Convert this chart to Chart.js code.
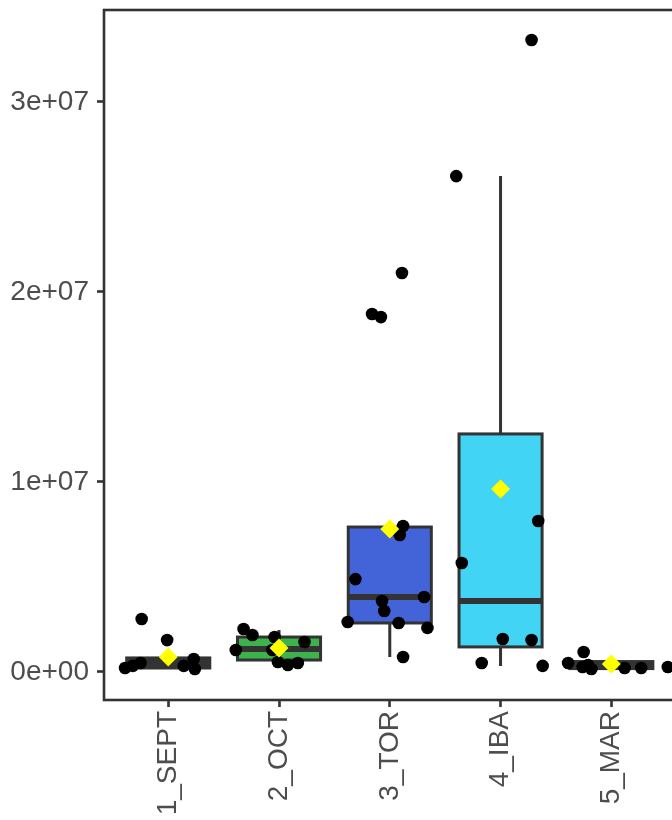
<!DOCTYPE html>
<html>
<head>
<meta charset="utf-8">
<script src="https://cdn.jsdelivr.net/npm/chart.js@4/dist/chart.umd.min.js"></script>
<style>
  html, body { margin: 0; padding: 0; background: #ffffff; overflow: hidden; width: 672px; height: 820px; }
  canvas { display: block; }
</style>
</head>
<body>
<canvas id="c" width="700" height="820"></canvas>
<script>
// ---- data ----
const categories = ['1_SEPT', '2_OCT', '3_TOR', '4_IBA', '5_MAR'];
const boxFill = ['#333333', '#3CB44B', '#4363D8', '#42D4F4', '#333333'];

// box statistics per category
const q1          = [0.21e6, 0.63e6, 2.58e6, 1.32e6, 0.18e6];
const medians     = [0.47e6, 1.21e6, 3.95e6, 3.74e6, 0.30e6];
const q3          = [0.74e6, 1.84e6, 7.63e6, 12.53e6, 0.55e6];
const whiskerLow  = [0.16e6, 0.37e6, 0.79e6, 0.32e6, 0.16e6];
const whiskerHigh = [0.74e6, 2.21e6, 7.63e6, 26.1e6, 0.55e6];
const means       = [0.79e6, 1.26e6, 7.53e6, 9.63e6, 0.42e6];

// jittered observations (x in category units, y values)
const pointX = [
  0.76, 0.99, 0.61, 0.68, 0.75, 1.14, 1.23, 1.24,
  1.68, 1.76, 1.61, 1.96, 1.94, 1.99, 2.08, 2.17, 2.23,
  3.12, 3.09, 2.69, 3.31, 2.93, 2.95, 2.62, 3.08, 3.34, 3.12, 3.11, 2.84, 2.92,
  3.65, 4.34, 4.02, 4.28, 3.83, 4.38, 4.28, 3.60,
  4.61, 4.75, 4.74, 4.82, 4.79, 5.12, 5.27, 5.51
];
const pointY = [
  2.79e6, 1.68e6, 0.21e6, 0.32e6, 0.47e6, 0.32e6, 0.68e6, 0.16e6,
  2.26e6, 1.95e6, 1.16e6, 1.84e6, 1.16e6, 0.53e6, 0.37e6, 0.47e6, 1.58e6,
  7.68e6, 7.21e6, 4.89e6, 3.95e6, 3.74e6, 3.21e6, 2.63e6, 2.58e6, 2.32e6, 0.79e6, 21.0e6, 18.84e6, 18.68e6,
  5.74e6, 7.95e6, 1.74e6, 1.68e6, 0.47e6, 0.32e6, 33.26e6, 26.1e6,
  0.47e6, 1.05e6, 0.26e6, 0.16e6, 0.37e6, 0.21e6, 0.21e6, 0.26e6
];
const yTicks = [0, 1e7, 2e7, 3e7];

// ---- helpers ----
function sciLabel(v) {
  const s = Number(v).toExponential(0);
  const parts = s.split('e');
  const sign = parts[1][0];
  const exp = parts[1].slice(1).padStart(2, '0');
  return parts[0] + 'e' + sign + exp;
}

const LINE = '#333333';
const TEXT = '#4D4D4D';
const FONT = { family: '"Liberation Sans", Arial, sans-serif', size: 28 };

const boxPlugin = {
  id: 'boxes',
  beforeDatasetsDraw(chart) {
    const ctx = chart.ctx;
    const xs = chart.scales.x, ys = chart.scales.y;
    const half = 0.375;
    ctx.save();
    ctx.beginPath();
    ctx.rect(chart.chartArea.left, chart.chartArea.top,
             chart.chartArea.right - chart.chartArea.left,
             chart.chartArea.bottom - chart.chartArea.top);
    ctx.clip();
    categories.forEach((c, i) => {
      const xc = xs.getPixelForValue(i + 1);
      const xl = xs.getPixelForValue(i + 1 - half);
      const xr = xs.getPixelForValue(i + 1 + half);
      const yq1 = ys.getPixelForValue(q1[i]);
      const yq3 = ys.getPixelForValue(q3[i]);
      const ymed = ys.getPixelForValue(medians[i]);
      const ylo = ys.getPixelForValue(whiskerLow[i]);
      const yhi = ys.getPixelForValue(whiskerHigh[i]);
      ctx.strokeStyle = LINE;
      ctx.lineWidth = 3;
      ctx.lineCap = 'butt';
      ctx.beginPath();
      ctx.moveTo(xc, yq3); ctx.lineTo(xc, yhi);
      ctx.moveTo(xc, yq1); ctx.lineTo(xc, ylo);
      ctx.stroke();
      ctx.fillStyle = boxFill[i];
      ctx.fillRect(xl, yq3, xr - xl, yq1 - yq3);
      ctx.strokeRect(xl, yq3, xr - xl, yq1 - yq3);
      ctx.lineWidth = 6;
      ctx.beginPath();
      ctx.moveTo(xl, ymed); ctx.lineTo(xr, ymed);
      ctx.stroke();
    });
    ctx.restore();
  },
  afterDraw(chart) {
    const ctx = chart.ctx;
    const a = chart.chartArea;
    ctx.save();
    ctx.strokeStyle = LINE;
    ctx.lineWidth = 2.6;
    ctx.strokeRect(a.left, a.top, a.right - a.left, a.bottom - a.top);
    ctx.restore();
  }
};

const points = pointX.map((x, k) => ({ x: x, y: pointY[k] }));
const meanPts = means.map((m, i) => ({ x: i + 1, y: m }));

new Chart(document.getElementById('c'), {
  type: 'scatter',
  data: {
    datasets: [
      {
        label: 'mean',
        data: meanPts,
        pointStyle: 'rectRot',
        pointRadius: 9.5,
        backgroundColor: '#FFFF00',
        borderWidth: 0,
        order: 0
      },
      {
        label: 'obs',
        data: points,
        pointRadius: 6.3,
        backgroundColor: '#000000',
        borderWidth: 0,
        order: 1
      }
    ]
  },
  options: {
    responsive: false,
    animation: false,
    events: [],
    layout: { padding: { top: 10, right: 20, left: 0, bottom: 0 } },
    plugins: { legend: { display: false }, tooltip: { enabled: false } },
    scales: {
      x: {
        type: 'linear',
        min: 0.42,
        max: 5.62,
        afterBuildTicks(s) { s.ticks = categories.map((c, i) => ({ value: i + 1 })); },
        afterFit(s) { s.height = 120; s.paddingLeft = 0; s.paddingRight = 0; },
        border: { display: false },
        grid: { drawOnChartArea: false, drawTicks: true, tickLength: 7, tickColor: LINE, tickWidth: 2.6 },
        ticks: {
          autoSkip: false,
          minRotation: 90,
          maxRotation: 90,
          padding: 4,
          color: TEXT,
          font: FONT,
          callback(v) { return categories[Math.round(v) - 1]; }
        }
      },
      y: {
        type: 'linear',
        min: -1.4737e6,
        max: 3.4842e7,
        afterBuildTicks(s) { s.ticks = yTicks.map(v => ({ value: v })); },
        afterFit(s) { s.width = 104; s.paddingTop = 0; s.paddingBottom = 0; },
        border: { display: false },
        grid: { drawOnChartArea: false, drawTicks: true, tickLength: 7, tickColor: LINE, tickWidth: 2.6 },
        ticks: {
          padding: 8,
          color: TEXT,
          font: FONT,
          callback(v) { return sciLabel(v); }
        }
      }
    }
  },
  plugins: [boxPlugin]
});
</script>
</body>
</html>
